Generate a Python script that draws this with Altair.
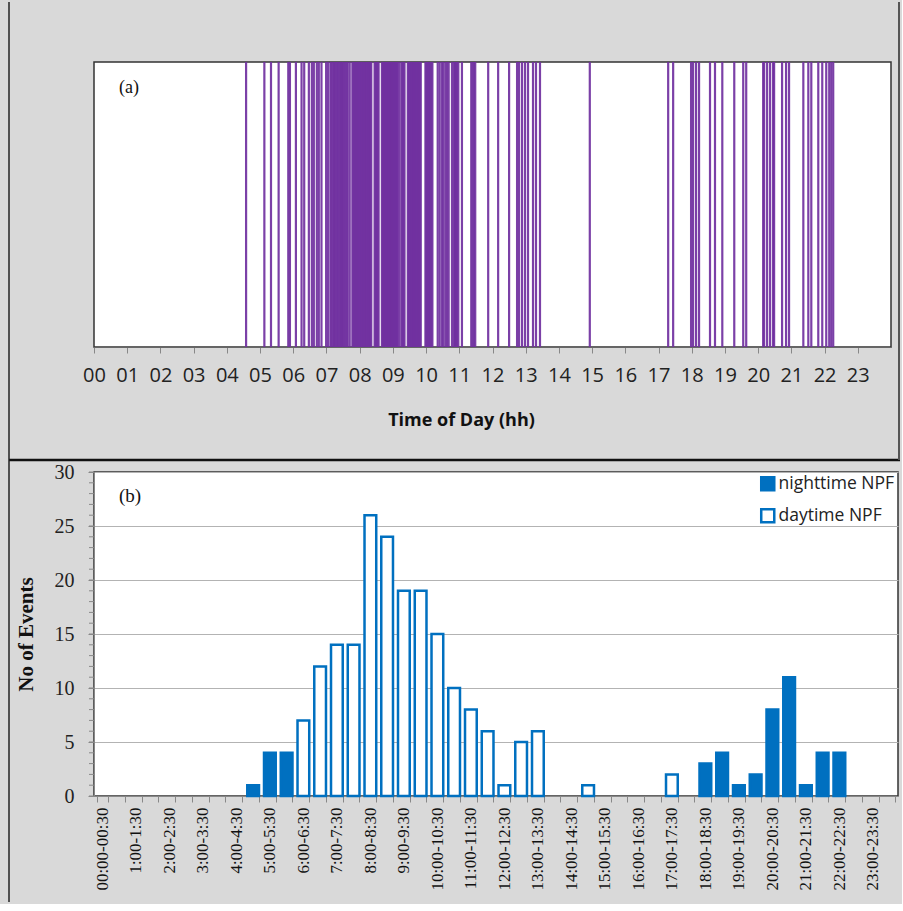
import altair as alt
import pandas as pd

# ---------------- data ----------------
# Panel (a): individual NPF event start times (decimal hours)
event_times = [
    4.58, 5.13, 5.33, 5.56, 5.85, 5.90, 6.08, 6.25, 6.33, 6.47, 6.56, 6.62, 6.71, 6.77, 6.85,
    6.99, 7.05, 7.12, 7.15, 7.19, 7.23, 7.26,
    7.30, 7.33, 7.36, 7.40, 7.43, 7.47, 7.50, 7.54, 7.57, 7.61, 7.64, 7.70,
    7.78, 7.81, 7.84, 7.87, 7.90, 7.93, 7.96, 7.99, 8.02, 8.05, 8.08, 8.11, 8.14, 8.17,
    8.20, 8.23, 8.26, 8.29, 8.32, 8.35,
    8.45, 8.48, 8.51, 8.54, 8.57,
    8.67, 8.70, 8.73, 8.76, 8.79, 8.82, 8.85, 8.88, 8.91, 8.94, 8.97, 9.00, 9.03, 9.06,
    9.09, 9.12, 9.15, 9.20,
    9.26, 9.29, 9.32, 9.35,
    9.45, 9.48, 9.51, 9.54, 9.57, 9.60, 9.63, 9.66, 9.69, 9.72, 9.75, 9.78, 9.81, 9.84,
    9.98, 10.01, 10.04, 10.07, 10.10, 10.13, 10.16, 10.19,
    10.35, 10.41, 10.48, 10.52, 10.58, 10.63, 10.68, 10.78, 10.84, 10.87, 10.90, 10.93,
    10.97, 11.08, 11.36, 11.40, 11.44, 11.48, 11.87, 12.17, 12.50, 12.74, 12.80, 12.89,
    12.98, 13.07, 13.22, 13.31, 13.43,
    14.93, 17.29, 17.44, 17.98, 18.04, 18.13, 18.22, 18.55, 18.70, 18.92, 19.28, 19.55, 19.64,
    20.15, 20.18, 20.27, 20.36, 20.45, 20.48, 20.72, 20.84, 20.93, 21.36, 21.51, 21.60,
    21.81, 21.93, 22.05, 22.14, 22.20, 22.26,
]
hour_ticks = list(range(0, 24))

# Panel (b): half-hour bins
bins = [
    "00:00-00:30", "00:30-1:00", "1:00-1:30", "1:30-2:00", "2:00-2:30", "2:30-3:00",
    "3:00-3:30", "3:30-4:00", "4:00-4:30", "4:30-5:00", "5:00-5:30", "5:30-6:00",
    "6:00-6:30", "6:30-7:00", "7:00-7:30", "7:30-8:00", "8:00-8:30", "8:30-9:00",
    "9:00-9:30", "9:30-10:00", "10:00-10:30", "10:30-11:00", "11:00-11:30", "11:30-12:00",
    "12:00-12:30", "12:30-13:00", "13:00-13:30", "13:30-14:00", "14:00-14:30", "14:30-15:00",
    "15:00-15:30", "15:30-16:00", "16:00-16:30", "16:30-17:00", "17:00-17:30", "17:30-18:00",
    "18:00-18:30", "18:30-19:00", "19:00-19:30", "19:30-20:00", "20:00-20:30", "20:30-21:00",
    "21:00-21:30", "21:30-22:00", "22:00-22:30", "22:30-23:00", "23:00-23:30", "23:30-24:00",
]
daytime = [0, 0, 0, 0, 0, 0, 0, 0, 0, 0, 0, 0,
           7, 12, 14, 14, 26, 24, 19, 19, 15, 10, 8, 6,
           1, 5, 6, 0, 0, 1, 0, 0, 0, 0, 2, 0,
           0, 0, 0, 0, 0, 0, 0, 0, 0, 0, 0, 0]
nighttime = [0, 0, 0, 0, 0, 0, 0, 0, 0, 1, 4, 4,
             0, 0, 0, 0, 0, 0, 0, 0, 0, 0, 0, 0,
             0, 0, 0, 0, 0, 0, 0, 0, 0, 0, 0, 0,
             3, 4, 1, 2, 8, 11, 1, 4, 4, 0, 0, 0]
series_names = ["nighttime NPF", "daytime NPF"]
y_major = [0, 5, 10, 15, 20, 25, 30]
y_minor = list(range(0, 31))

# ---------------- styling ----------------
PURPLE = "#7030A0"
BLUE = "#0070C0"
BG = "#d9d9d9"
W_TOP, H_TOP = 797, 285
W_BOT, H_BOT = 804, 324

one = pd.DataFrame({"k": [0]})

# ---------------- top panel ----------------
ev_df = pd.DataFrame({"t": event_times})
events = alt.Chart(ev_df).mark_rule(color=PURPLE, strokeWidth=2.2, opacity=0.92).encode(
    x=alt.X("t:Q",
            scale=alt.Scale(domain=[0, 24], nice=False, zero=False),
            axis=alt.Axis(values=hour_ticks,
                          labelExpr="datum.value < 10 ? '0' + datum.value : '' + datum.value",
                          title="Time of Day (hh)",
                          titleX=367, titleAlign="center",
                          labelFont="Open Sans", labelFontSize=20, labelColor="#222222",
                          labelPadding=12, labelFlush=False,
                          titleFont="Open Sans", titleFontSize=18, titleFontWeight="bold",
                          titleColor="#111111", titlePadding=26,
                          tickColor="#888888", tickSize=6, domainColor="#666666",
                          grid=False)),
    y=alt.value(0),
    y2=alt.value(H_TOP),
)
label_a = alt.Chart(one).mark_text(font="Liberation Serif", fontSize=18, align="left",
                                    baseline="middle", color="#111111").encode(
    x=alt.value(25), y=alt.value(26), text=alt.value("(a)"))
separator = alt.Chart(one).mark_rule(color="#111111", strokeWidth=2.5).encode(
    x=alt.value(-85), x2=alt.value(806), y=alt.value(H_TOP + 113))
left_border_top = alt.Chart(one).mark_rule(color="#222222", strokeWidth=1.5).encode(
    x=alt.value(-85), y=alt.value(-60), y2=alt.value(H_TOP + 113))
right_border_top = alt.Chart(one).mark_rule(color="#555555", strokeWidth=2).encode(
    x=alt.value(805), y=alt.value(-60), y2=alt.value(H_TOP + 113))

top = alt.layer(events, label_a, separator, left_border_top, right_border_top).properties(
    width=W_TOP, height=H_TOP)

# ---------------- bottom panel ----------------
rows = []
for b, d, n in zip(bins, daytime, nighttime):
    if n > 0:
        rows.append({"bin": b, "count": n, "type": series_names[0]})
    if d > 0:
        rows.append({"bin": b, "count": d, "type": series_names[1]})
bar_df = pd.DataFrame(rows)

yscale = alt.Scale(domain=[0, 30], nice=False)
yaxis = alt.Axis(values=y_major, title="No of Events",
                 labelFont="Liberation Serif", labelFontSize=20, labelColor="#222222",
                 labelPadding=14, tickSize=6, tickColor="#888888",
                 domainColor="#888888",
                 titleFont="Liberation Serif", titleFontSize=21,
                 titleFontWeight="bold", titleColor="#111111", titlePadding=18,
                 grid=True, gridColor="#b3b3b3", gridWidth=1.2)

bars = alt.Chart(bar_df).mark_bar(stroke=BLUE, strokeWidth=2.5).encode(
    x=alt.X("bin:N",
            scale=alt.Scale(domain=bins, paddingInner=0.3, paddingOuter=0.15),
            axis=alt.Axis(labelAngle=-90,
                          labelExpr="indexof(datum.label, ':00-') >= 0 ? datum.label : ''",
                          labelFont="Liberation Serif", labelFontSize=17, labelColor="#111111",
                          labelPadding=5, tickBand="extent", tickColor="#888888", tickSize=6,
                          domainColor="#888888", title=None, grid=False)),
    y=alt.Y("count:Q", scale=yscale, axis=yaxis),
    fill=alt.Fill("type:N",
                  scale=alt.Scale(domain=series_names, range=[BLUE, "white"]),
                  legend=alt.Legend(title=None, orient="top-right", offset=0,
                                    symbolType="square", symbolSize=170,
                                    symbolStrokeColor=BLUE, symbolStrokeWidth=2.5,
                                    labelFont="Open Sans", labelFontSize=17.5,
                                    labelColor="#222222", rowPadding=8, labelOffset=2,
                                    padding=3)),
)

minor_df = pd.DataFrame({"v": y_minor})
minor_ticks = alt.Chart(minor_df).mark_rule(color="#888888", strokeWidth=1).encode(
    y=alt.Y("v:Q", scale=yscale, axis=yaxis),
    x=alt.value(-5), x2=alt.value(0))

label_b = alt.Chart(one).mark_text(font="Liberation Serif", fontSize=19, align="left",
                                    baseline="middle", color="#111111").encode(
    x=alt.value(25), y=alt.value(24), text=alt.value("(b)"))
left_border_bot = alt.Chart(one).mark_rule(color="#222222", strokeWidth=1.5).encode(
    x=alt.value(-85), y=alt.value(-12), y2=alt.value(430))

bottom = alt.layer(bars, minor_ticks, label_b, left_border_bot).properties(
    width=W_BOT, height=H_BOT)

chart = alt.vconcat(top, bottom, spacing=-4).resolve_legend(fill="independent").properties(
    background=BG,
    padding={"left": 7, "top": 0, "right": 0, "bottom": 0},
).configure_view(stroke="#333333", strokeWidth=1.5, fill="white")

chart.save("out.html", embed_options={"renderer": "svg", "actions": False})
